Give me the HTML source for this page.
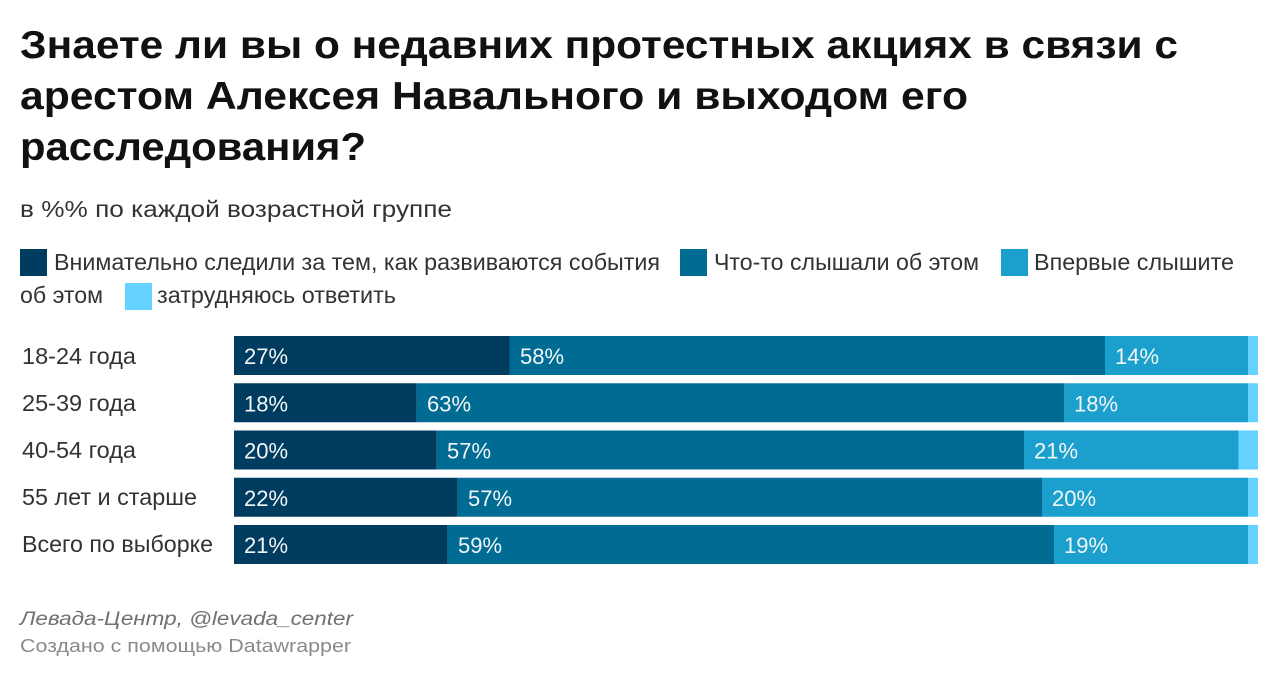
<!DOCTYPE html>
<html>
<head>
<meta charset="utf-8">
<style>
  html,body{margin:0;padding:0;background:#fff;}
  body{width:1280px;height:686px;overflow:hidden;}
  svg{display:block;}
  text{font-family:"Liberation Sans","DejaVu Sans",sans-serif;}
</style>
</head>
<body>
<svg width="1280" height="686" viewBox="0 0 1280 686" xmlns="http://www.w3.org/2000/svg">
  <rect width="1280" height="686" fill="#ffffff"/>

  <!-- Title -->
  <g font-weight="bold" font-size="39" fill="#111">
    <text x="20" y="58" textLength="1158" lengthAdjust="spacingAndGlyphs">Знаете ли вы о недавних протестных акциях в связи с</text>
    <text x="20" y="109" textLength="948" lengthAdjust="spacingAndGlyphs">арестом Алексея Навального и выходом его</text>
    <text x="20" y="160" textLength="346" lengthAdjust="spacingAndGlyphs">расследования?</text>
  </g>

  <!-- Subtitle -->
  <text x="20" y="217" font-size="23" fill="#333" textLength="432" lengthAdjust="spacingAndGlyphs">в %% по каждой возрастной группе</text>

  <!-- Legend -->
  <g font-size="23" fill="#333">
    <rect x="20" y="249" width="27" height="27" fill="#003c5f"/>
    <text x="54" y="270" textLength="606" lengthAdjust="spacingAndGlyphs">Внимательно следили за тем, как развиваются события</text>
    <rect x="680" y="249" width="27" height="27" fill="#006c93"/>
    <text x="714" y="270" textLength="265" lengthAdjust="spacingAndGlyphs">Что-то слышали об этом</text>
    <rect x="1001" y="249" width="27" height="27" fill="#1ba0cd"/>
    <text x="1034" y="270" textLength="200" lengthAdjust="spacingAndGlyphs">Впервые слышите</text>
    <text x="20" y="303" textLength="83" lengthAdjust="spacingAndGlyphs">об этом</text>
    <rect x="125" y="283" width="27" height="27" fill="#65d3ff"/>
    <text x="157" y="303" textLength="239" lengthAdjust="spacingAndGlyphs">затрудняюсь ответить</text>
  </g>

  <!-- Row labels -->
  <g font-size="23" fill="#333">
    <text x="22" y="364" textLength="114" lengthAdjust="spacingAndGlyphs">18-24 года</text>
    <text x="22" y="411" textLength="114" lengthAdjust="spacingAndGlyphs">25-39 года</text>
    <text x="22" y="458" textLength="114" lengthAdjust="spacingAndGlyphs">40-54 года</text>
    <text x="22" y="505" textLength="175" lengthAdjust="spacingAndGlyphs">55 лет и старше</text>
    <text x="22" y="552" textLength="191" lengthAdjust="spacingAndGlyphs">Всего по выборке</text>
  </g>

  <!-- Bars -->
  <rect x="234" y="336" width="275.5" height="39" fill="#003c5f"/>
  <rect x="509.5" y="336" width="595.5" height="39" fill="#006c93"/>
  <rect x="1105" y="336" width="143" height="39" fill="#1ba0cd"/>
  <rect x="1248" y="336" width="10" height="39" fill="#65d3ff"/>

  <rect x="234" y="383.25" width="182.7" height="39" fill="#003c5f"/>
  <rect x="416.7" y="383.25" width="647.3" height="39" fill="#006c93"/>
  <rect x="1064" y="383.25" width="184" height="39" fill="#1ba0cd"/>
  <rect x="1248" y="383.25" width="10" height="39" fill="#65d3ff"/>

  <rect x="234" y="430.5" width="202.7" height="39" fill="#003c5f"/>
  <rect x="436.7" y="430.5" width="587.3" height="39" fill="#006c93"/>
  <rect x="1024" y="430.5" width="214.5" height="39" fill="#1ba0cd"/>
  <rect x="1238.5" y="430.5" width="19.5" height="39" fill="#65d3ff"/>

  <rect x="234" y="477.75" width="223.7" height="39" fill="#003c5f"/>
  <rect x="457.7" y="477.75" width="584.3" height="39" fill="#006c93"/>
  <rect x="1042" y="477.75" width="206" height="39" fill="#1ba0cd"/>
  <rect x="1248" y="477.75" width="10" height="39" fill="#65d3ff"/>

  <rect x="234" y="525" width="213.7" height="39" fill="#003c5f"/>
  <rect x="447.7" y="525" width="606.3" height="39" fill="#006c93"/>
  <rect x="1054" y="525" width="194" height="39" fill="#1ba0cd"/>
  <rect x="1248" y="525" width="10" height="39" fill="#65d3ff"/>

  <!-- Value labels -->
  <g font-size="22" fill="#f2f6f8">
    <text x="244" y="364">27%</text>
    <text x="520" y="364">58%</text>
    <text x="1115" y="364">14%</text>

    <text x="244" y="411.25">18%</text>
    <text x="427" y="411.25">63%</text>
    <text x="1074" y="411.25">18%</text>

    <text x="244" y="458.5">20%</text>
    <text x="447" y="458.5">57%</text>
    <text x="1034" y="458.5">21%</text>

    <text x="244" y="505.75">22%</text>
    <text x="468" y="505.75">57%</text>
    <text x="1052" y="505.75">20%</text>

    <text x="244" y="553">21%</text>
    <text x="458" y="553">59%</text>
    <text x="1064" y="553">19%</text>
  </g>

  <!-- Footer -->
  <text x="20" y="625" font-size="19" font-style="italic" fill="#707070" textLength="333" lengthAdjust="spacingAndGlyphs">Левада-Центр, @levada_center</text>
  <text x="20" y="652" font-size="18" fill="#8a8a8a" textLength="331" lengthAdjust="spacingAndGlyphs">Создано с помощью Datawrapper</text>
</svg>
</body>
</html>
